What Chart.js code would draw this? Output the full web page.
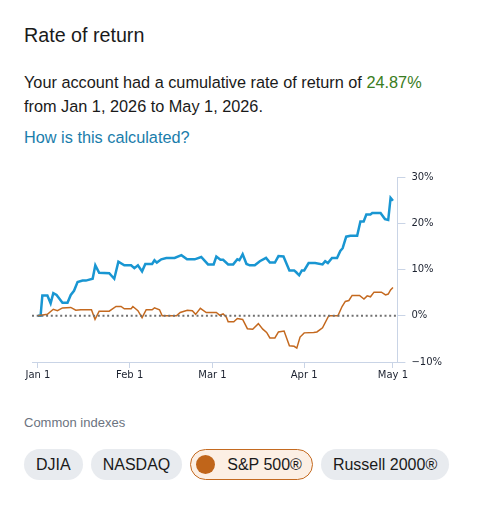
<!DOCTYPE html>
<html>
<head>
<meta charset="utf-8">
<script src="https://cdn.jsdelivr.net/npm/chart.js@4/dist/chart.umd.min.js"></script>
<style>
  body { margin: 0; background: #fff; font-family: "Liberation Sans", Arial, sans-serif; color: #1a1a1a; }
  .title { position: absolute; left: 24px; top: 24px; font-size: 19.7px; line-height: 22px; }
  .summary { position: absolute; left: 24px; top: 70px; font-size: 16.3px; line-height: 24px; }
  .summary .pct { color: #3a7d22; }
  .how { position: absolute; left: 24px; top: 125px; font-size: 16.3px; line-height: 24px; color: #1a7dab; }
  .chartBox { position: absolute; left: 20px; top: 165px; width: 430px; height: 225px; }
  .common { position: absolute; left: 24px; top: 415px; font-size: 13px; line-height: 16px; color: #6b7380; }
  .pills { position: absolute; left: 24px; top: 449px; display: flex; gap: 8px; }
  .pill { box-sizing: border-box; height: 31px; line-height: 31px; padding: 0 12px; border-radius: 16px; background: #e8ebef; font-size: 16px; display: flex; align-items: center; }
  .pill.on { background: #fcefe4; border: 1px solid #c46a20; padding: 0 10px 0 5px; line-height: 29px; }
  .dot { width: 19px; height: 19px; border-radius: 50%; background: #c0651a; margin-right: 12px; }
</style>
</head>
<body>
<div class="title">Rate of return</div>
<div class="summary">Your account had a cumulative rate of return of <span class="pct">24.87%</span><br>from Jan 1, 2026 to May 1, 2026.</div>
<div class="how">How is this calculated?</div>
<div class="chartBox"><canvas id="returnChart"></canvas></div>
<div class="common">Common indexes</div>
<div class="pills">
  <div class="pill">DJIA</div>
  <div class="pill">NASDAQ</div>
  <div class="pill on"><span class="dot"></span>S&amp;P 500®</div>
  <div class="pill">Russell 2000®</div>
</div>
<script>
// days since Jan 1, 2026 and cumulative return in %
const accountDays = [0, 0.9, 1.5, 3.2, 4.3, 5.2, 6.3, 8.3, 10.0, 11.1, 12.2, 13.4, 15.1, 16.2, 18.5, 19.4, 20.7, 24.1, 25.8, 27.2,
  29.2, 31.5, 32.6, 33.8, 35.2, 36.3, 38.6, 39.4, 40.2, 41.7, 43.4, 46.2, 48.5, 50.4, 53.0, 55.2, 57.5, 59.4, 60.3, 61.7,
  62.6, 64.3, 66.0, 67.4, 68.1, 69.2, 70.5, 71.6, 73.3, 75.0, 77.1, 78.4, 80.1, 81.3, 83.0, 85.0, 86.6, 87.3, 88.3, 89.2,
  90.0, 91.5, 93.7, 96.2, 97.1, 98.0, 99.4, 101.1, 102.2, 103.0, 104.2, 105.6, 107.9, 109.0, 110.1, 111.0, 112.4, 113.0, 115.8, 117.3,
  118.4, 119.2, 120];
const accountValues = [0, 0, 4.4, 4.4, 2.7, 4.9, 4.5, 2.8, 2.8, 4.5, 5.4, 7.3, 7.6, 7.6, 8.0, 10.9, 9.3, 9.2, 8.0, 11.7,
  10.9, 10.9, 10.3, 10.9, 9.6, 11.2, 11.2, 12.0, 11.5, 12.2, 12.5, 12.5, 13.1, 12.2, 12.2, 12.7, 11.1, 11.1, 12.8, 12.1,
  12.1, 11.1, 11.1, 12.2, 12.0, 13.3, 11.2, 10.9, 10.9, 11.8, 12.5, 11.5, 11.5, 12.9, 12.8, 9.8, 9.8, 9.4, 8.75, 9.8,
  9.8, 11.4, 11.4, 11.1, 11.8, 11.4, 12.5, 12.5, 14.0, 14.6, 17.1, 17.3, 17.3, 20.4, 20.4, 21.9, 21.9, 22.2, 22.2, 20.9,
  20.7, 25.5, 24.87];

const spDays = [0, 3.2, 5.2, 6.6, 8.3, 11.1, 12.8, 14.5, 18.1, 19.3, 20.7, 24.1, 26.4, 28.1, 29.2, 31.5, 32.1, 33.8, 35.2, 36.6,
  38.6, 39.4, 41.1, 42.0, 46.8, 48.1, 50.5, 52.2, 53.3, 54.9, 56.9, 60.3, 61.5, 62.6, 63.7, 64.3, 66.2, 67.4, 69.2, 70.8,
  72.6, 74.5, 76.0, 77.3, 78.4, 80.1, 81.3, 83.2, 85.0, 86.6, 87.5, 88.6, 90.0, 93.2, 94.3, 96.2, 98.3, 101.4, 102.8, 103.9,
  105.1, 106.2, 108.7, 110.2, 111.3, 112.4, 113.6, 116.1, 117.5, 118.4, 119.2, 120];
const spValues = [0, 0.3, 1.4, 1.1, 1.7, 1.8, 1.2, 1.3, 1.3, -0.8, 1.0, 1.0, 2.0, 2.0, 1.5, 1.5, 2.0, 1.1, -0.4, 1.3,
  1.3, 1.7, 1.3, 0, 0, 0.7, 1.2, 1.1, 0.3, 1.6, 0.7, 0.7, 0.1, 0.4, -0.3, -1.3, -1.3, -0.6, -0.8, -2.8,
  -2.9, -1.7, -2.9, -3.6, -4.8, -4.8, -3.5, -3.3, -6.5, -6.6, -7.0, -4.6, -3.7, -3.6, -3.5, -2.6, 0, 0, 2.0, 3.1,
  3.3, 4.4, 4.4, 3.6, 4.3, 4.1, 5.1, 5.1, 4.5, 4.7, 5.6, 6.1];

const tickDays = [0, 31, 59, 90, 120];
const tickLabels = ['Jan 1', 'Feb 1', 'Mar 1', 'Apr 1', 'May 1'];
const yTicks = [-10, 0, 10, 20, 30];
const yLabels = ['\u221210%', '0%', '10%', '20%', '30%'];
const xMin = -2, xMax = 121.5;

const toPoints = (xs, ys) => xs.map((x, i) => ({ x: x, y: ys[i] }));
const axisColor = '#c9d4e6';

new Chart(document.getElementById('returnChart').getContext('2d'), {
  type: 'line',
  data: {
    datasets: [
      {
        data: [{ x: xMin, y: 0 }, { x: xMax, y: 0 }],
        borderColor: '#707070',
        borderWidth: 2,
        borderDash: [2, 2.7],
        pointRadius: 0
      },
      {
        label: 'S&P 500',
        data: toPoints(spDays, spValues),
        borderColor: '#c4691f',
        borderWidth: 1.5,
        pointRadius: 0
      },
      {
        label: 'Account',
        data: toPoints(accountDays, accountValues),
        borderColor: '#1996d2',
        borderWidth: 2.5,
        pointRadius: 0
      }
    ]
  },
  options: {
    responsive: true,
    maintainAspectRatio: false,
    animation: false,
    layout: { padding: { left: 12, top: 12, right: 2, bottom: 8 } },
    plugins: { legend: { display: false }, tooltip: { enabled: false } },
    scales: {
      x: {
        type: 'linear',
        min: xMin,
        max: xMax,
        afterBuildTicks: axis => { axis.ticks = tickDays.map(v => ({ value: v })); },
        grid: { drawOnChartArea: false, tickLength: 6, color: axisColor },
        border: { color: axisColor },
        ticks: {
          autoSkip: false,
          maxRotation: 0,
          padding: 1,
          color: '#1c2230',
          font: { family: 'DejaVu Sans', size: 10 },
          callback: (v, i) => tickLabels[i]
        }
      },
      y: {
        position: 'right',
        min: -10,
        max: 30,
        afterBuildTicks: axis => { axis.ticks = yTicks.map(v => ({ value: v })); },
        grid: { drawOnChartArea: false, tickLength: 8, color: axisColor },
        border: { color: axisColor },
        ticks: {
          padding: 6,
          color: '#1c2230',
          font: { family: 'DejaVu Sans', size: 10 },
          callback: (v, i) => yLabels[i]
        }
      }
    }
  }
});
</script>
</body>
</html>
